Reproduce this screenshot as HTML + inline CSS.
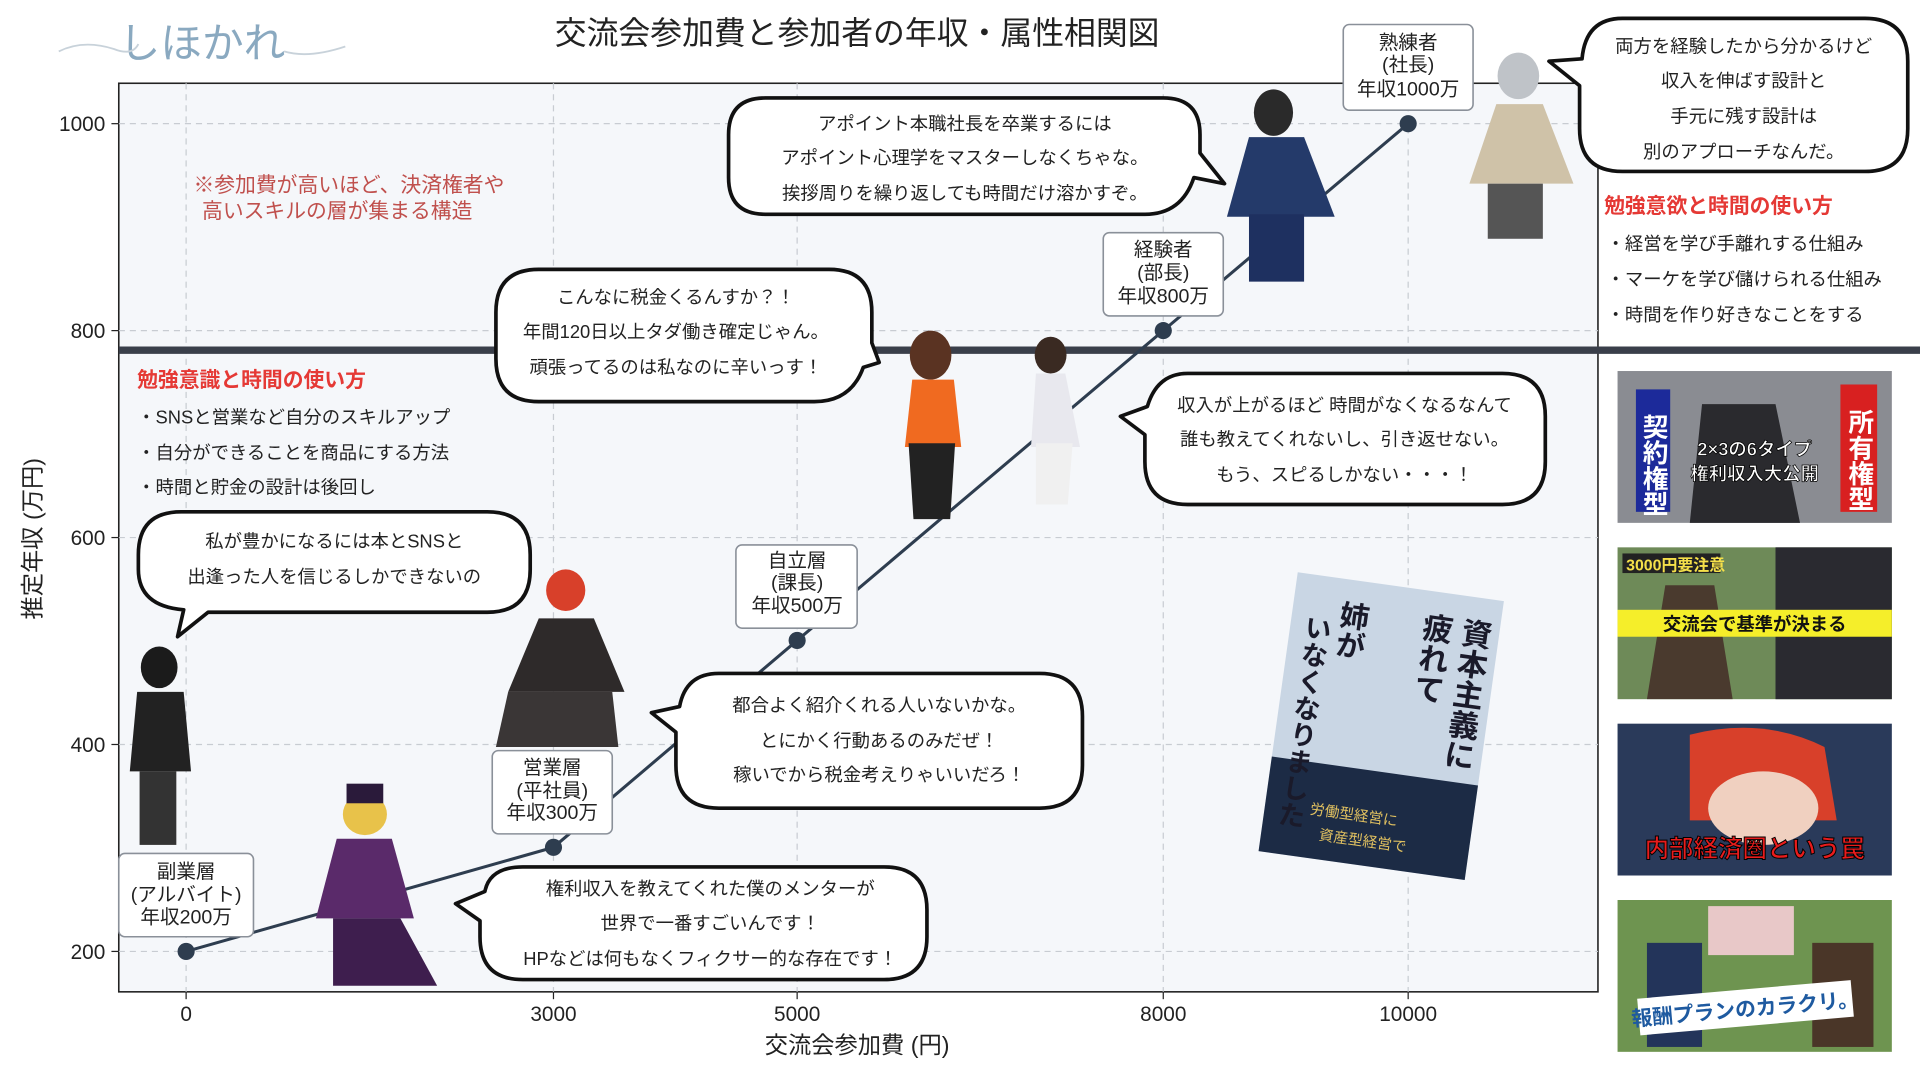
<!DOCTYPE html>
<html><head><meta charset="utf-8"><style>
html,body{margin:0;padding:0;background:#fff;width:1920px;height:1080px;overflow:hidden}
svg{display:block}
text{font-family:"Liberation Sans","Noto Sans CJK JP",sans-serif}
</style></head><body>
<svg width="1920" height="1080" viewBox="0 0 1568 882" preserveAspectRatio="none" xmlns="http://www.w3.org/2000/svg">
<rect width="1568" height="882" fill="#fff"/>
<text x="165" y="47" font-size="34" fill="#8aa9c0" text-anchor="middle" font-family="Noto Serif CJK SC, serif">しほかれ</text>
<path d="M48 42 q20 -10 45 -2 q15 6 20 -4" stroke="#c8d2da" fill="none" stroke-width="1.5"/>
<path d="M232 42 q20 6 50 -4" stroke="#c8d2da" fill="none" stroke-width="1.5"/>
<text x="700" y="36" font-size="26" fill="#222" text-anchor="middle">交流会参加費と参加者の年収・属性相関図</text>
<rect x="97" y="68" width="1208" height="742" fill="#f5f7fa" stroke="#222" stroke-width="1.3"/>
<g stroke="#c8ccd2" stroke-dasharray="5,4" stroke-width="1">
<line x1="97" y1="101" x2="1305" y2="101"/><line x1="97" y1="270" x2="1305" y2="270"/><line x1="97" y1="439" x2="1305" y2="439"/><line x1="97" y1="608" x2="1305" y2="608"/><line x1="97" y1="777" x2="1305" y2="777"/>
<line x1="152" y1="68" x2="152" y2="810"/><line x1="452" y1="68" x2="452" y2="810"/><line x1="651" y1="68" x2="651" y2="810"/><line x1="950" y1="68" x2="950" y2="810"/><line x1="1150" y1="68" x2="1150" y2="810"/>
</g>
<g stroke="#222" stroke-width="1"><line x1="91" y1="101" x2="97" y2="101"/><line x1="91" y1="270" x2="97" y2="270"/><line x1="91" y1="439" x2="97" y2="439"/><line x1="91" y1="608" x2="97" y2="608"/><line x1="91" y1="777" x2="97" y2="777"/>
<line x1="152" y1="810" x2="152" y2="816"/><line x1="452" y1="810" x2="452" y2="816"/><line x1="651" y1="810" x2="651" y2="816"/><line x1="950" y1="810" x2="950" y2="816"/><line x1="1150" y1="810" x2="1150" y2="816"/></g>
<g font-size="17" fill="#222" text-anchor="end"><text x="86" y="107">1000</text><text x="86" y="276">800</text><text x="86" y="445">600</text><text x="86" y="614">400</text><text x="86" y="783">200</text></g>
<g font-size="17" fill="#222" text-anchor="middle"><text x="152" y="834">0</text><text x="452" y="834">3000</text><text x="651" y="834">5000</text><text x="950" y="834">8000</text><text x="1150" y="834">10000</text></g>
<text x="700" y="860" font-size="19" fill="#222" text-anchor="middle">交流会参加費 (円)</text>
<text transform="translate(33,440) rotate(-90)" font-size="19" fill="#222" text-anchor="middle">推定年収 (万円)</text>
<line x1="97" y1="286" x2="1568" y2="286" stroke="#3a3f4a" stroke-width="6"/>
<polyline points="152,777 452,692 651,523 950,270 1150,101" fill="none" stroke="#2e3d4f" stroke-width="2.5"/>
<g fill="#2e3d4f"><circle cx="152" cy="777" r="7"/><circle cx="452" cy="692" r="7"/><circle cx="651" cy="523" r="7"/><circle cx="950" cy="270" r="7"/><circle cx="1150" cy="101" r="7"/></g>
<text x="158" y="157" font-size="17" fill="#c0504d">※参加費が高いほど、決済権者や</text>
<text x="165" y="178" font-size="17" fill="#c0504d">高いスキルの層が集まる構造</text>
<text x="112" y="316" font-size="17" font-weight="bold" fill="#e53935">勉強意識と時間の使い方</text>
<g font-size="15" fill="#222"><text x="112" y="346">・SNSと営業など自分のスキルアップ</text><text x="112" y="375">・自分ができることを商品にする方法</text><text x="112" y="403">・時間と貯金の設計は後回し</text></g>
<text x="1310" y="174" font-size="17" font-weight="bold" fill="#e53935">勉強意欲と時間の使い方</text>
<g font-size="15" fill="#222"><text x="1312" y="204">・経営を学び手離れする仕組み</text><text x="1312" y="233">・マーケを学び儲けられる仕組み</text><text x="1312" y="262">・時間を作り好きなことをする</text></g>
<g>
<ellipse cx="130" cy="545" rx="15" ry="17" fill="#1b1b1b"/><path d="M112 565 h38 l6 65 h-50 z" fill="#222"/><rect x="114" y="630" width="30" height="60" fill="#333"/>
<ellipse cx="298" cy="665" rx="18" ry="17" fill="#e8c24a"/><rect x="283" y="640" width="30" height="16" fill="#2a1a3a"/><path d="M275 685 h45 l18 65 h-80 z" fill="#5a2a6a"/><path d="M272 750 h55 l30 55 h-85 z" fill="#3e1e4e"/>
<ellipse cx="462" cy="482" rx="16" ry="17" fill="#d8402a"/><path d="M440 505 h45 l25 60 h-95 z" fill="#2e2a2a"/><path d="M415 565 h85 l5 45 h-100 z" fill="#3a3636"/>
<ellipse cx="760" cy="290" rx="17" ry="20" fill="#5a3322"/><path d="M745 310 h34 l6 55 h-46 z" fill="#f06a20"/><path d="M742 362 h38 l-4 62 h-30 z" fill="#222"/>
<ellipse cx="858" cy="290" rx="13" ry="15" fill="#3a2a22"/><path d="M846 305 h24 l12 60 h-40 z" fill="#e8e8ee"/><path d="M846 362 h30 l-4 50 h-26 z" fill="#f0f0f0"/>
<ellipse cx="1040" cy="92" rx="16" ry="19" fill="#2a2a2a"/><path d="M1020 112 h45 l25 65 h-88 z" fill="#243a6a"/><rect x="1020" y="175" width="45" height="55" fill="#1e3060"/>
<ellipse cx="1240" cy="62" rx="17" ry="19" fill="#bfc3c8"/><path d="M1222 85 h38 l25 65 h-85 z" fill="#cfc2a8"/><rect x="1215" y="150" width="45" height="45" fill="#555"/>
</g>
<g transform="rotate(8 1128 593)">
<rect x="1043" y="478" width="170" height="230" fill="#c9d6e4"/>
<rect x="1043" y="630" width="170" height="78" fill="#1c2b45"/>
<text x="1192" y="495" font-size="25" font-weight="bold" fill="#1a1a2a" writing-mode="tb">資本主義に</text>
<text x="1160" y="495" font-size="25" font-weight="bold" fill="#1a1a2a" writing-mode="tb">疲れて</text>
<text x="1092" y="495" font-size="24" font-weight="bold" fill="#1a1a2a" writing-mode="tb">姉が</text>
<text x="1064" y="510" font-size="22" font-weight="bold" fill="#1a1a2a" writing-mode="tb">いなくなりました</text>
<text x="1080" y="672" font-size="12" fill="#e0c060">労働型経営に</text>
<text x="1090" y="692" font-size="12" fill="#e0c060">資産型経営で</text>
</g>
<g fill="#fff" stroke="#8a9099" stroke-width="1.3">
<rect x="97" y="697" width="110" height="68" rx="5"/><rect x="402" y="613" width="98" height="68" rx="5"/><rect x="601" y="445" width="99" height="68" rx="5"/><rect x="901" y="190" width="98" height="68" rx="5"/><rect x="1097" y="20" width="106" height="70" rx="5"/>
</g>
<g font-size="16" fill="#222" text-anchor="middle">
<text x="152" y="717">副業層</text><text x="152" y="736">(アルバイト)</text><text x="152" y="754">年収200万</text>
<text x="451" y="632">営業層</text><text x="451" y="651">(平社員)</text><text x="451" y="669">年収300万</text>
<text x="651" y="463">自立層</text><text x="651" y="481">(課長)</text><text x="651" y="500">年収500万</text>
<text x="950" y="209">経験者</text><text x="950" y="228">(部長)</text><text x="950" y="247">年収800万</text>
<text x="1150" y="40">熟練者</text><text x="1150" y="58">(社長)</text><text x="1150" y="78">年収1000万</text>
</g>
<g fill="#fff" stroke="#111" stroke-width="3" stroke-linejoin="round">
<path d="M625 80 H950 Q980 80 980 110 V125 L1000 150 L975 145 Q965 175 935 175 H625 Q595 175 595 145 V110 Q595 80 625 80 Z"/>
<path d="M1325 15 H1523 Q1558 15 1558 50 V105 Q1558 140 1523 140 H1325 Q1290 140 1290 105 V70 L1265 50 L1292 48 Q1295 15 1325 15 Z"/>
<path d="M440 220 H677 Q712 220 712 255 V280 L718 296 L705 300 Q695 328 665 328 H440 Q405 328 405 293 V255 Q405 220 440 220 Z"/>
<path d="M970 305 H1227 Q1262 305 1262 340 V377 Q1262 412 1227 412 H970 Q935 412 935 377 V355 L915 340 L937 332 Q945 305 970 305 Z"/>
<path d="M148 418 H398 Q433 418 433 453 V465 Q433 500 398 500 H170 L145 520 L150 498 Q113 495 113 465 V453 Q113 418 148 418 Z"/>
<path d="M587 550 H849 Q884 550 884 585 V625 Q884 660 849 660 H587 Q552 660 552 625 V598 L532 582 L555 577 Q560 550 587 550 Z"/>
<path d="M427 708 H722 Q757 708 757 743 V765 Q757 800 722 800 H427 Q392 800 392 765 V752 L372 738 L396 728 Q400 708 427 708 Z"/>
</g>
<g font-size="15" fill="#222" text-anchor="middle">
<text x="788" y="106">アポイント本職社長を卒業するには</text><text x="788" y="134">アポイント心理学をマスターしなくちゃな。</text><text x="788" y="163">挨拶周りを繰り返しても時間だけ溶かすぞ。</text>
<text x="1424" y="43">両方を経験したから分かるけど</text><text x="1424" y="71">収入を伸ばす設計と</text><text x="1424" y="100">手元に残す設計は</text><text x="1424" y="129">別のアプローチなんだ。</text>
<text x="552" y="248">こんなに税金くるんすか？！</text><text x="552" y="276">年間120日以上タダ働き確定じゃん。</text><text x="552" y="305">頑張ってるのは私なのに辛いっす！</text>
<text x="1098" y="336">収入が上がるほど 時間がなくなるなんて</text><text x="1098" y="364">誰も教えてくれないし、引き返せない。</text><text x="1098" y="393">もう、スピるしかない・・・！</text>
<text x="273" y="447">私が豊かになるには本とSNSと</text><text x="273" y="476">出逢った人を信じるしかできないの</text>
<text x="718" y="581">都合よく紹介くれる人いないかな。</text><text x="718" y="610">とにかく行動あるのみだぜ！</text><text x="718" y="638">稼いでから税金考えりゃいいだろ！</text>
<text x="580" y="731">権利収入を教えてくれた僕のメンターが</text><text x="580" y="759">世界で一番すごいんです！</text><text x="580" y="788">HPなどは何もなくフィクサー的な存在です！</text>
</g>
<rect x="1321" y="303" width="224" height="124" fill="#8a8c92"/>
<path d="M1390 330 h60 l20 97 h-90 z" fill="#2a2a2e"/>
<rect x="1336" y="318" width="28" height="100" fill="#1c2a9a"/><rect x="1503" y="314" width="30" height="104" fill="#d82020"/>
<text x="1350" y="338" font-size="21" font-weight="bold" fill="#fff" writing-mode="tb">契約権型</text>
<text x="1518" y="334" font-size="21" font-weight="bold" fill="#fff" writing-mode="tb">所有権型</text>
<text x="1433" y="372" font-size="15" font-weight="bold" fill="#fff" text-anchor="middle" stroke="#000" stroke-width="0.6">2×3の6タイプ</text>
<text x="1433" y="392" font-size="15" font-weight="bold" fill="#fff" text-anchor="middle" stroke="#000" stroke-width="0.6">権利収入大公開</text>
<rect x="1321" y="447" width="224" height="124" fill="#6e8a58"/>
<rect x="1450" y="447" width="95" height="124" fill="#2a2a30"/>
<path d="M1360 478 h40 l15 93 h-70 z" fill="#4a3a2e"/>
<rect x="1325" y="452" width="80" height="16" fill="#222"/><text x="1328" y="466" font-size="13" font-weight="bold" fill="#f5e04a">3000円要注意</text>
<rect x="1321" y="498" width="224" height="22" fill="#f5ee2a"/><text x="1433" y="515" font-size="15" font-weight="bold" fill="#111" text-anchor="middle">交流会で基準が決まる</text>
<rect x="1321" y="591" width="224" height="124" fill="#2a3a5a"/>
<path d="M1380 600 q60 -15 110 10 l10 60 h-120 z" fill="#d8402a"/>
<ellipse cx="1440" cy="660" rx="45" ry="30" fill="#f0d0c0"/>
<text x="1433" y="700" font-size="20" font-weight="bold" fill="#e81c1c" stroke="#000" stroke-width="0.8" text-anchor="middle">内部経済圏という罠</text>
<rect x="1321" y="735" width="224" height="124" fill="#6e9450"/>
<rect x="1395" y="740" width="70" height="40" fill="#e8c8c8"/>
<rect x="1345" y="770" width="45" height="85" fill="#23345a"/><rect x="1480" y="770" width="50" height="85" fill="#4a3628"/>
<rect x="1338" y="808" width="175" height="30" fill="#fff" transform="rotate(-5 1425 823)"/>
<text x="1425" y="830" font-size="17" font-weight="bold" fill="#1e5aa0" text-anchor="middle" transform="rotate(-5 1425 823)">報酬プランのカラクリ。</text>
</svg>
</body></html>
